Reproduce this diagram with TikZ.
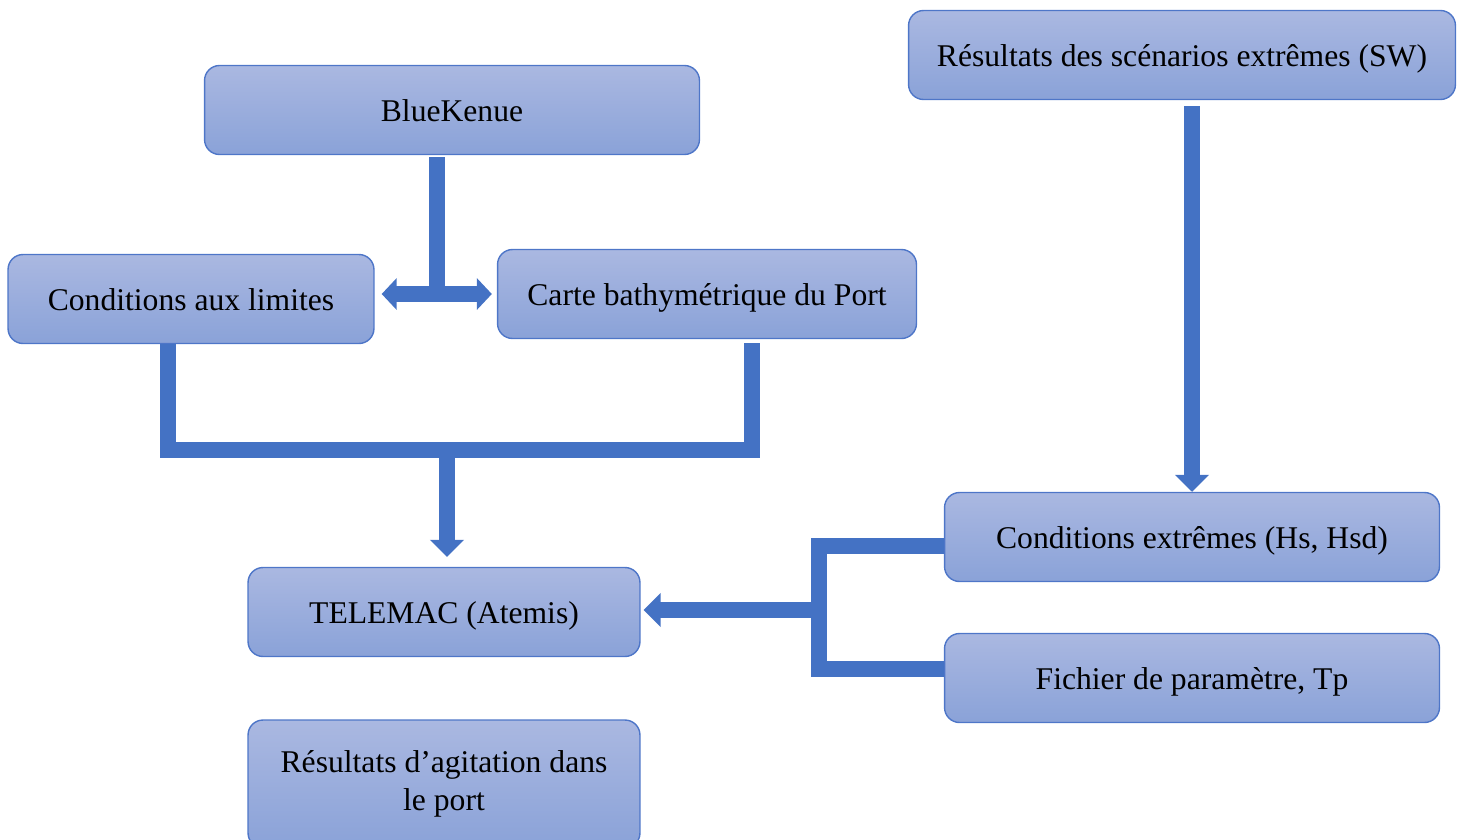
\documentclass[tikz,border=0pt]{standalone}
\usepackage{fontspec}
\setmainfont{Liberation Serif}
\usepackage{xcolor}
\usetikzlibrary{arrows.meta, positioning, calc}

\definecolor{flowblue}{RGB}{68,114,196}
\definecolor{boxtop}{RGB}{170,184,225}
\definecolor{boxbot}{RGB}{138,162,216}
\definecolor{boxline}{RGB}{78,118,200}

\begin{document}
\begin{tikzpicture}[
		x=0.02cm, y=-0.02cm,
		font=\fontsize{18}{21.5}\selectfont,
		box/.style={draw=boxline, line width=0.8pt, rounded corners=0.3cm,
			top color=boxtop, bottom color=boxbot, align=center,
			inner sep=0pt, minimum height=1.78cm,
			text height=13.5pt, text depth=0.9pt},
		pipe/.style={draw=flowblue, line width=0.32cm, line join=miter},
		flow/.style={pipe, -{Triangle[width=0.66cm, length=0.34cm]}},
		flow2/.style={pipe, {Triangle[width=0.62cm, length=0.30cm]}-{Triangle[width=0.62cm, length=0.30cm]}}
		]
		
		\clip (0,0) rectangle (1463,839);
		\useasboundingbox (0,0) rectangle (1463,839);
		
		% Boxes
		\node[box, minimum width=9.9cm] (blue) at (452,110) {BlueKenue};
		\node[box, minimum width=10.94cm] (sw) at (1182,55) {Résultats des scénarios extrêmes (SW)};
		\node[box, minimum width=7.32cm] (cond) at (191,299) {Conditions aux limites};
		\node[box, minimum width=8.38cm] (carte) at (707,294) {Carte bathymétrique du Port};
		\node[box, minimum width=7.84cm] (telemac) at (444,612) {TELEMAC (Atemis)};
		\node[box, minimum width=7.84cm, minimum height=2.56cm, text height=, text depth=] (res) at (444,784) {Résultats d’agitation dans\\le port};
		\node[box, minimum width=9.9cm] (ext) at (1192,537) {Conditions extrêmes (Hs, Hsd)};
		\node[box, minimum width=9.9cm] (fich) at (1192,678) {Fichier de paramètre, Tp};
		
		% Junctions
		\coordinate (split) at (437,294);
		\coordinate (jl) at (168,450);
		\coordinate (jr) at (752,450);
		\coordinate (jm) at (447,450);
		\coordinate (bt) at (819,546);
		\coordinate (bb) at (819,669);
		\coordinate (bm) at (819,610);
		
		% BlueKenue to both inputs
		\draw[pipe] ([yshift=-0.04cm]blue.south -| split) -- ([yshift=0.16cm]split);
		\draw[flow2] ([xshift=0.14cm]cond.east |- split) -- ([xshift=-0.1cm]carte.west |- split);
		
		% Inputs merged into TELEMAC
		\draw[pipe] (cond.south -| jl) -- (jl) -- (jr) -- ([yshift=-0.08cm]carte.south -| jr);
		\draw[flow, shorten >=0.2cm] ([yshift=-0.16cm]jm) -- (telemac.north -| jm);
		
		% Extreme scenarios
		\draw[flow, shorten <=0.12cm] (sw.south -| ext.north) -- (ext.north);
		\draw[pipe] (ext.west |- bt) -- (bt) -- (bb) -- (fich.west |- bb);
		\draw[flow, shorten >=0.06cm] (bm) -- (telemac.east |- bm);
		
	\end{tikzpicture}
\end{document}
